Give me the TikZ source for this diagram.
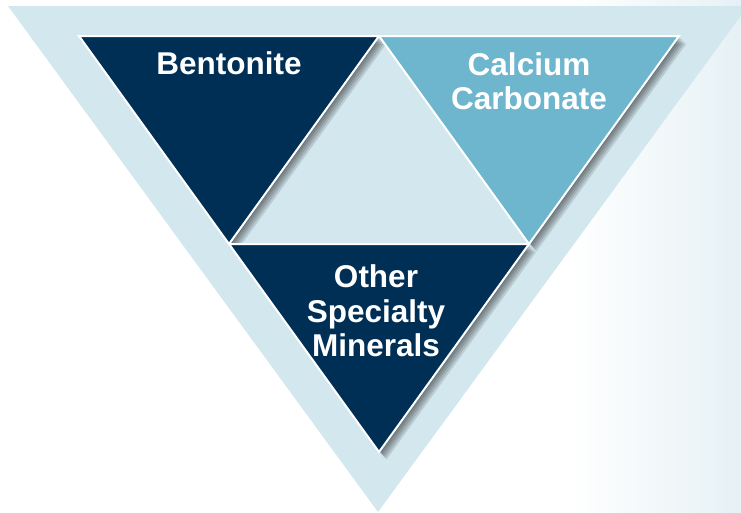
\documentclass[tikz,border=0pt]{standalone}
\usepackage{fontspec}
\setmainfont{Liberation Sans}
\definecolor{navy}{RGB}{0, 47, 86}
\definecolor{sky}{RGB}{110, 182, 206}
\definecolor{pale}{RGB}{211, 231, 238}
\definecolor{bgblue}{RGB}{230, 241, 245}

\begin{document}
\begin{tikzpicture}[x=1pt, y=-1pt,
    label/.style={text=white, font=\bfseries\fontsize{31.5}{34.5}\selectfont, align=center},
    piece/.style={draw=white, line width=2, line join=miter},
    shadowed/.style={fill=black, opacity=0.12}]

  \useasboundingbox (0, 0) rectangle (741, 512);
  \shade[left color=white, right color=bgblue] (570, 0) rectangle (741, 512);

  % big backdrop
  \fill[pale] (8, 6) -- (748, 6) -- (378, 512) -- cycle;

  % corners of the inner triangle
  \coordinate (tl) at (79, 36);
  \coordinate (tr) at (679, 36);
  \coordinate (bt) at (379, 452);
  \coordinate (tm) at (379, 36);
  \coordinate (ml) at (229, 244);
  \coordinate (mr) at (529, 244);

  \fill[pale] (tm) -- (mr) -- (ml) -- cycle;

  % soft shadows
  \foreach \s in {1.5, 3, ..., 7.5} {
    \fill[shadowed] ([xshift=\s pt, yshift=-\s pt]tl) -- ([xshift=\s pt, yshift=-\s pt]tm)
      -- ([xshift=\s pt, yshift=-\s pt]ml) -- cycle;
    \fill[shadowed] ([xshift=\s pt, yshift=-\s pt]tm) -- ([xshift=\s pt, yshift=-\s pt]tr)
      -- ([xshift=\s pt, yshift=-\s pt]mr) -- cycle;
    \fill[shadowed] ([xshift=\s pt, yshift=-\s pt]ml) -- ([xshift=\s pt, yshift=-\s pt]mr)
      -- ([xshift=\s pt, yshift=-\s pt]bt) -- cycle;
  }

  \path[piece, fill=navy] (tl) -- (tm) -- (ml) -- cycle;
  \path[piece, fill=sky] (tm) -- (tr) -- (mr) -- cycle;
  \path[piece, fill=navy] (ml) -- (mr) -- (bt) -- cycle;

  \node[label] (bent) at (229, 63) {Bentonite};
  \node[label] (calc) at (529, 81) {Calcium\\Carbonate};
  \node[label] (other) at (376, 311) {Other\\Specialty\\Minerals};

\end{tikzpicture}
\end{document}
